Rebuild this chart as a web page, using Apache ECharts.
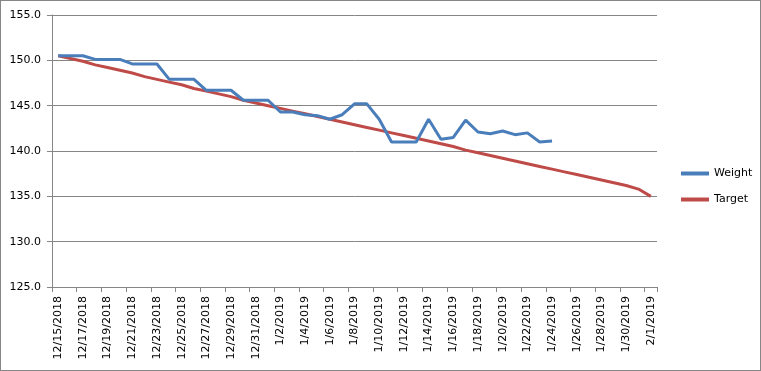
<!DOCTYPE html>
<html>
<head>
<meta charset="utf-8">
<script src="https://cdn.jsdelivr.net/npm/echarts@6/dist/echarts.min.js"></script>
<style>
html,body{margin:0;padding:0;background:#fff;}
#c{width:759px;height:369px;border:1px solid #868686;}
</style>
</head>
<body>
<div id="c"></div>
<script>
var dates = ["12/15/2018","12/16/2018","12/17/2018","12/18/2018","12/19/2018","12/20/2018","12/21/2018","12/22/2018","12/23/2018","12/24/2018","12/25/2018","12/26/2018","12/27/2018","12/28/2018","12/29/2018","12/30/2018","12/31/2018","1/1/2019","1/2/2019","1/3/2019","1/4/2019","1/5/2019","1/6/2019","1/7/2019","1/8/2019","1/9/2019","1/10/2019","1/11/2019","1/12/2019","1/13/2019","1/14/2019","1/15/2019","1/16/2019","1/17/2019","1/18/2019","1/19/2019","1/20/2019","1/21/2019","1/22/2019","1/23/2019","1/24/2019","1/25/2019","1/26/2019","1/27/2019","1/28/2019","1/29/2019","1/30/2019","1/31/2019","2/1/2019"];
var weight = [150.5,150.5,150.5,150.1,150.1,150.1,149.6,149.6,149.6,147.9,147.9,147.9,146.7,146.7,146.7,145.6,145.6,145.6,144.3,144.3,144.0,143.9,143.5,144.0,145.2,145.2,143.5,141.0,141.0,141.0,143.5,141.3,141.5,143.4,142.1,141.9,142.2,141.8,142.0,141.0,141.1];
var target = [150.5,150.2,149.9,149.5,149.2,148.9,148.6,148.2,147.9,147.6,147.3,146.9,146.6,146.3,146.0,145.6,145.3,145.0,144.7,144.4,144.1,143.8,143.5,143.2,142.9,142.6,142.3,142.0,141.7,141.4,141.1,140.8,140.5,140.1,139.8,139.5,139.2,138.9,138.6,138.3,138.0,137.7,137.4,137.1,136.8,136.5,136.2,135.8,135.0];

var chart = echarts.init(document.getElementById('c'), null, {renderer:'canvas'});
var font = 'DejaVu Sans';
chart.setOption({
  animation:false,
  backgroundColor:'#ffffff',
  grid:{left:51, right:103, top:14, bottom:83, containLabel:false},
  legend:{
    orient:'vertical', left:675, top:162, itemWidth:28, itemHeight:4, itemGap:15,
    icon:'rect',
    textStyle:{fontFamily:font, fontSize:11, color:'#000'},
    data:['Weight','Target']
  },
  xAxis:{
    type:'category', data:dates, boundaryGap:true,
    axisLine:{lineStyle:{color:'#868686', width:1}},
    axisTick:{show:true, interval:1, length:5, lineStyle:{color:'#868686'}},
    axisLabel:{interval:1, rotate:90, margin:9, fontFamily:font, fontSize:11, color:'#000'},
    splitLine:{show:false}
  },
  yAxis:{
    type:'value', min:125, max:155, interval:5,
    axisLine:{show:true, lineStyle:{color:'#868686', width:1}},
    axisTick:{show:true, length:5, lineStyle:{color:'#868686'}},
    axisLabel:{margin:11, fontFamily:font, fontSize:11, color:'#000', formatter:function(v){return v.toFixed(1);}},
    splitLine:{show:true, lineStyle:{color:'#868686', width:1}}
  },
  series:[
    {name:'Weight', type:'line', data:weight, showSymbol:false, symbol:'none',
     lineStyle:{color:'#4a7ebb', width:3}, itemStyle:{color:'#4a7ebb'}, z:3},
    {name:'Target', type:'line', data:target, showSymbol:false, symbol:'none',
     lineStyle:{color:'#be4b48', width:3}, itemStyle:{color:'#be4b48'}, z:2}
  ]
});
</script>
</body>
</html>
